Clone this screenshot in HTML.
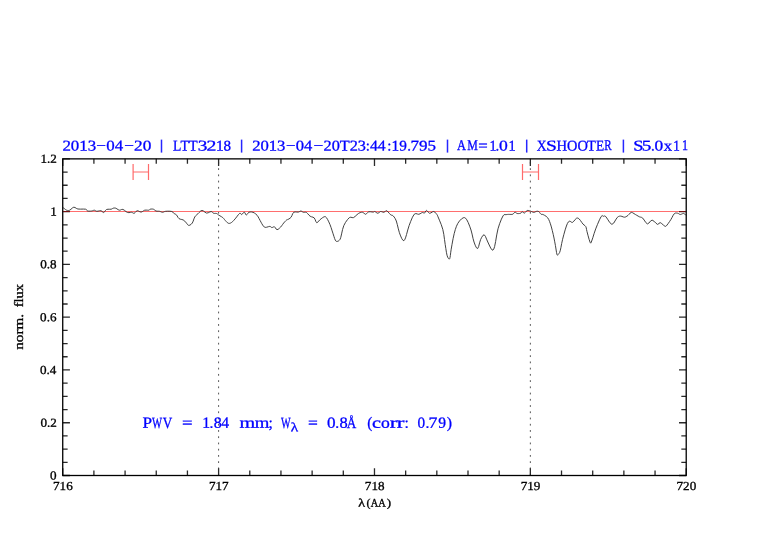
<!DOCTYPE html>
<html><head><meta charset="utf-8"><style>
html,body{margin:0;padding:0;background:#fff;width:782px;height:542px;overflow:hidden}
svg{display:block;will-change:transform}
</style></head><body>
<svg width="782" height="542" viewBox="0 0 782 542" style='font-family:"Liberation Serif", serif'>
<rect width="782" height="542" fill="#fff"/>
<path d="M133.10 164 V180 M148.50 164 V180 M133.10 172 H148.50" stroke="#ff6a6a" stroke-width="1.2" fill="none"/>
<path d="M522.50 164 V180 M538.50 164 V180 M522.50 172 H538.50" stroke="#ff6a6a" stroke-width="1.2" fill="none"/>
<path d="M218.60 475.4 V158.7" stroke="#555" stroke-width="1.0" stroke-dasharray="1.8 4.435" stroke-dashoffset="0.1" fill="none"/>
<path d="M530.35 475.4 V158.7" stroke="#555" stroke-width="1.0" stroke-dasharray="1.8 4.435" stroke-dashoffset="0.1" fill="none"/>
<path d="M62.73 211.5 H686.22" stroke="#ff6e6e" stroke-width="1.0" fill="none"/>
<path d="M63.00 208.00 L63.17 207.99 L63.43 207.99 L63.90 208.20 L64.65 208.81 L65.60 209.61 L66.60 210.20 L67.57 210.46 L68.58 210.50 L69.70 210.20 L70.99 209.24 L72.40 207.96 L73.80 207.20 L75.03 207.50 L76.27 208.34 L77.90 209.00 L80.41 209.13 L83.32 209.07 L85.60 209.20 L86.61 209.75 L86.99 210.47 L87.60 211.00 L88.87 211.16 L90.37 211.13 L91.70 211.00 L92.68 210.72 L93.50 210.36 L94.30 210.20 L95.08 210.49 L95.85 210.99 L96.80 211.30 L98.09 211.14 L99.56 210.79 L100.90 210.70 L101.96 211.30 L102.89 212.17 L103.80 212.50 L104.64 211.76 L105.46 210.48 L106.50 209.50 L108.02 209.23 L109.76 209.25 L111.20 209.20 L112.04 208.88 L112.59 208.49 L113.20 208.20 L113.99 208.05 L114.84 208.01 L115.80 208.20 L116.90 208.82 L118.09 209.67 L119.30 210.20 L120.46 210.00 L121.62 209.48 L122.90 209.40 L124.38 210.27 L125.97 211.57 L127.50 212.50 L128.96 212.63 L130.36 212.40 L131.60 212.30 L132.56 212.68 L133.36 213.19 L134.20 213.30 L135.14 212.55 L136.12 211.40 L137.20 210.70 L138.44 210.99 L139.79 211.73 L141.10 212.10 L142.30 211.64 L143.47 210.81 L144.70 210.20 L146.13 210.10 L147.61 210.20 L148.80 210.20 L149.43 209.90 L149.78 209.50 L150.30 209.20 L151.23 209.06 L152.34 209.03 L153.40 209.20 L154.27 209.72 L155.08 210.44 L156.00 211.00 L157.15 211.19 L158.41 211.20 L159.60 211.30 L160.64 211.66 L161.61 212.09 L162.60 212.30 L163.51 212.07 L164.44 211.62 L165.70 211.30 L167.64 211.20 L169.91 211.23 L171.80 211.50 L172.95 212.16 L173.71 213.05 L174.40 213.80 L175.09 214.13 L175.71 214.31 L176.40 214.80 L177.17 215.95 L178.00 217.41 L179.00 218.60 L180.31 219.19 L181.80 219.50 L183.10 219.90 L184.03 220.49 L184.78 221.17 L185.60 222.00 L186.57 223.25 L187.61 224.65 L188.70 225.40 L189.90 225.17 L191.16 224.29 L192.30 223.00 L193.19 221.13 L193.96 218.85 L194.80 216.90 L195.75 215.66 L196.77 214.74 L197.90 213.80 L199.17 212.46 L200.56 211.09 L202.00 210.40 L203.50 211.01 L205.05 212.29 L206.60 213.10 L208.21 212.76 L209.83 211.94 L211.20 211.50 L212.14 211.91 L212.84 212.69 L213.60 213.30 L214.59 213.43 L215.64 213.39 L216.60 213.50 L217.29 213.90 L217.89 214.45 L218.70 215.10 L219.98 215.85 L221.48 216.70 L222.80 217.60 L223.73 218.54 L224.48 219.53 L225.30 220.50 L226.29 221.57 L227.34 222.64 L228.40 223.30 L229.41 223.40 L230.43 223.11 L231.50 222.50 L232.63 221.58 L233.81 220.35 L235.10 218.90 L236.66 216.93 L238.32 214.73 L239.70 213.30 L240.54 213.36 L241.09 214.19 L241.70 214.60 L242.54 213.84 L243.46 212.67 L244.30 212.10 L244.99 212.91 L245.61 214.33 L246.30 215.10 L247.07 214.49 L247.90 213.24 L248.90 212.30 L250.16 211.98 L251.58 211.97 L253.00 212.30 L254.41 213.00 L255.81 214.03 L257.10 215.30 L258.20 216.89 L259.17 218.73 L260.10 220.50 L261.00 222.16 L261.86 223.76 L262.70 225.10 L263.46 226.16 L264.21 226.96 L265.20 227.40 L266.67 227.23 L268.37 226.69 L269.80 226.40 L270.67 226.71 L271.26 227.27 L271.90 227.60 L272.73 227.34 L273.62 226.87 L274.50 226.80 L275.30 227.70 L276.09 229.00 L277.00 229.70 L278.14 229.30 L279.40 228.28 L280.60 227.10 L281.67 225.81 L282.69 224.35 L283.70 223.00 L284.77 221.80 L285.82 220.70 L286.70 219.90 L287.23 219.60 L287.57 219.60 L288.10 219.40 L289.00 218.89 L290.07 218.20 L291.10 217.20 L291.92 215.59 L292.70 213.69 L293.70 212.30 L295.16 211.92 L296.84 212.06 L298.30 212.10 L299.32 211.71 L300.11 211.22 L300.90 211.00 L301.72 211.30 L302.53 211.86 L303.40 212.30 L304.37 212.32 L305.41 212.21 L306.50 212.50 L307.64 213.55 L308.84 214.99 L310.10 216.20 L311.49 216.80 L312.93 217.18 L314.20 217.90 L315.13 219.55 L315.88 221.55 L316.70 222.70 L317.65 222.34 L318.67 221.13 L319.80 219.90 L321.15 218.78 L322.61 217.63 L323.90 216.90 L324.81 216.63 L325.54 216.76 L326.40 217.60 L327.54 219.39 L328.80 221.87 L330.00 224.60 L331.10 227.61 L332.15 230.86 L333.10 233.80 L333.92 236.33 L334.64 238.56 L335.30 240.20 L335.89 241.07 L336.41 241.36 L337.00 241.40 L337.72 241.31 L338.49 240.97 L339.20 240.40 L339.73 239.84 L340.19 239.05 L340.80 237.30 L341.60 233.90 L342.56 229.54 L343.80 225.60 L345.53 222.36 L347.55 219.54 L349.40 217.60 L350.84 217.17 L352.11 217.62 L353.50 217.60 L355.20 216.36 L357.01 214.65 L358.70 213.30 L360.16 212.61 L361.49 212.29 L362.70 212.30 L363.74 212.91 L364.66 213.86 L365.60 214.30 L366.56 213.70 L367.55 212.59 L368.70 211.80 L370.24 211.73 L371.94 211.96 L373.30 212.10 L373.97 211.88 L374.30 211.56 L374.80 211.50 L375.73 212.06 L376.84 212.88 L377.90 213.30 L378.77 212.87 L379.59 212.04 L380.50 211.50 L381.63 211.66 L382.87 212.11 L384.00 212.30 L384.88 211.73 L385.66 210.90 L386.60 210.70 L387.91 211.76 L389.40 213.44 L390.70 214.80 L391.63 215.24 L392.38 215.35 L393.20 215.90 L394.19 217.06 L395.24 218.66 L396.30 221.00 L397.31 224.56 L398.33 228.85 L399.40 232.70 L400.60 235.94 L401.86 238.74 L403.00 240.40 L403.87 240.69 L404.63 239.84 L405.50 237.90 L406.56 234.49 L407.75 229.99 L409.10 225.60 L410.71 221.34 L412.48 217.19 L414.20 214.30 L415.81 213.53 L417.36 214.01 L418.80 214.30 L420.13 213.74 L421.35 212.99 L422.40 212.50 L423.21 212.64 L423.86 213.06 L424.50 213.10 L425.13 212.24 L425.76 211.01 L426.50 210.40 L427.41 211.13 L428.45 212.47 L429.60 213.30 L430.93 212.88 L432.38 211.93 L433.70 211.50 L434.84 212.10 L435.87 213.22 L436.70 214.30 L437.13 214.78 L437.37 215.23 L438.00 216.80 L439.43 220.16 L441.25 224.65 L442.80 229.40 L443.80 234.38 L444.53 239.62 L445.20 244.40 L445.84 248.57 L446.41 252.28 L447.00 255.20 L447.66 257.14 L448.32 258.30 L448.90 258.90 L449.32 259.10 L449.66 258.74 L450.00 257.60 L450.33 255.59 L450.66 252.80 L451.20 249.20 L452.04 244.33 L453.09 238.67 L454.20 233.60 L455.29 229.63 L456.44 226.26 L457.80 223.40 L459.53 220.91 L461.47 218.93 L463.20 217.80 L464.51 217.60 L465.62 218.24 L466.80 219.80 L468.20 222.53 L469.67 226.16 L471.00 230.00 L472.07 234.07 L473.00 238.33 L474.00 242.00 L475.18 245.18 L476.42 247.76 L477.60 248.60 L478.62 246.60 L479.58 242.87 L480.60 239.60 L481.76 237.24 L482.98 235.36 L484.20 234.80 L485.38 236.29 L486.56 239.10 L487.80 242.00 L489.21 245.00 L490.70 248.07 L492.00 249.90 L492.96 250.17 L493.73 249.19 L494.60 246.60 L495.61 241.56 L496.72 234.91 L498.00 228.80 L499.62 223.70 L501.42 219.15 L503.00 215.90 L504.18 214.60 L505.13 214.60 L506.00 214.70 L506.81 214.52 L507.53 214.44 L508.20 214.40 L508.79 214.39 L509.34 214.40 L510.00 214.40 L510.88 214.41 L511.87 214.41 L512.80 214.20 L513.58 213.54 L514.29 212.69 L515.00 212.20 L515.69 212.44 L516.39 213.06 L517.20 213.50 L518.28 213.60 L519.48 213.53 L520.50 213.30 L521.17 212.73 L521.66 211.99 L522.20 211.60 L522.87 212.01 L523.60 212.79 L524.40 213.10 L525.27 212.42 L526.21 211.28 L527.20 210.50 L528.26 210.44 L529.38 210.73 L530.50 211.10 L531.62 211.57 L532.74 212.12 L533.80 212.40 L534.79 212.16 L535.73 211.65 L536.60 211.30 L537.38 211.21 L538.09 211.28 L538.80 211.60 L539.53 212.38 L540.27 213.41 L541.00 214.20 L541.65 214.40 L542.30 214.35 L543.20 214.60 L544.56 215.32 L546.17 216.34 L547.60 217.70 L548.65 219.35 L549.53 221.33 L550.40 223.80 L551.36 226.95 L552.31 230.59 L553.20 234.30 L554.00 238.03 L554.73 241.82 L555.40 245.40 L555.98 248.97 L556.50 252.33 L557.00 254.60 L557.50 255.22 L557.99 254.76 L558.50 254.00 L559.03 253.43 L559.57 252.58 L560.20 250.80 L560.90 247.65 L561.67 243.57 L562.60 239.30 L563.80 234.69 L565.16 229.87 L566.40 226.00 L567.39 223.55 L568.27 222.04 L569.20 221.20 L570.24 221.35 L571.34 222.17 L572.50 222.40 L573.80 221.25 L575.16 219.51 L576.40 218.30 L577.38 218.01 L578.23 218.26 L579.20 219.00 L580.43 220.47 L581.77 222.43 L583.00 224.10 L584.07 225.03 L585.02 225.68 L585.80 226.60 L586.25 227.87 L586.52 229.42 L587.00 231.60 L587.95 235.19 L589.11 239.41 L590.10 242.30 L590.66 243.16 L591.04 242.68 L591.70 241.00 L592.80 237.77 L594.17 233.35 L595.70 228.90 L597.51 224.37 L599.47 219.82 L601.10 216.60 L602.13 215.59 L602.82 215.91 L603.50 216.30 L604.13 216.08 L604.76 215.92 L605.80 216.60 L607.58 219.19 L609.79 222.61 L611.90 224.40 L613.80 222.99 L615.60 219.94 L617.20 217.50 L618.45 216.53 L619.49 216.18 L620.60 216.10 L621.91 216.39 L623.29 216.96 L624.60 217.20 L625.78 216.86 L626.90 216.20 L628.00 215.40 L629.08 214.30 L630.14 213.07 L631.30 212.40 L632.61 212.71 L634.01 213.60 L635.40 214.50 L636.77 215.29 L638.12 216.10 L639.40 216.80 L640.50 217.14 L641.52 217.37 L642.70 218.10 L644.16 220.06 L645.78 222.51 L647.40 223.90 L648.94 223.04 L650.48 221.12 L652.10 220.10 L653.95 221.16 L655.87 223.12 L657.50 224.40 L658.53 224.05 L659.25 223.03 L660.20 222.60 L661.72 223.57 L663.46 225.14 L664.90 226.20 L665.69 226.38 L666.19 226.05 L666.90 225.20 L668.11 223.65 L669.54 221.58 L670.90 219.50 L672.08 217.38 L673.20 215.24 L674.30 213.70 L675.43 213.07 L676.55 213.04 L677.60 213.20 L678.52 213.59 L679.37 214.18 L680.30 214.50 L681.42 214.20 L682.62 213.63 L683.70 213.40 L684.63 213.91 L685.44 214.77 L686.00 215.40" stroke="#383838" stroke-width="0.95" fill="none" stroke-linejoin="round"/>
<path d="M62.73 475.50 V468.30 M62.73 158.87 V166.07 M93.90 475.50 V470.60 M93.90 158.87 V163.77 M125.08 475.50 V470.60 M125.08 158.87 V163.77 M156.25 475.50 V470.60 M156.25 158.87 V163.77 M187.43 475.50 V470.60 M187.43 158.87 V163.77 M218.60 475.50 V468.30 M218.60 158.87 V166.07 M249.78 475.50 V470.60 M249.78 158.87 V163.77 M280.95 475.50 V470.60 M280.95 158.87 V163.77 M312.13 475.50 V470.60 M312.13 158.87 V163.77 M343.30 475.50 V470.60 M343.30 158.87 V163.77 M374.48 475.50 V468.30 M374.48 158.87 V166.07 M405.65 475.50 V470.60 M405.65 158.87 V163.77 M436.82 475.50 V470.60 M436.82 158.87 V163.77 M468.00 475.50 V470.60 M468.00 158.87 V163.77 M499.17 475.50 V470.60 M499.17 158.87 V163.77 M530.35 475.50 V468.30 M530.35 158.87 V166.07 M561.52 475.50 V470.60 M561.52 158.87 V163.77 M592.70 475.50 V470.60 M592.70 158.87 V163.77 M623.87 475.50 V470.60 M623.87 158.87 V163.77 M655.05 475.50 V470.60 M655.05 158.87 V163.77 M686.22 475.50 V468.30 M686.22 158.87 V166.07 M62.73 475.50 H69.93 M686.22 475.50 H679.02 M62.73 462.31 H67.63 M686.22 462.31 H681.32 M62.73 449.11 H67.63 M686.22 449.11 H681.32 M62.73 435.92 H67.63 M686.22 435.92 H681.32 M62.73 422.73 H69.93 M686.22 422.73 H679.02 M62.73 409.54 H67.63 M686.22 409.54 H681.32 M62.73 396.34 H67.63 M686.22 396.34 H681.32 M62.73 383.15 H67.63 M686.22 383.15 H681.32 M62.73 369.96 H69.93 M686.22 369.96 H679.02 M62.73 356.76 H67.63 M686.22 356.76 H681.32 M62.73 343.57 H67.63 M686.22 343.57 H681.32 M62.73 330.38 H67.63 M686.22 330.38 H681.32 M62.73 317.18 H69.93 M686.22 317.18 H679.02 M62.73 303.99 H67.63 M686.22 303.99 H681.32 M62.73 290.80 H67.63 M686.22 290.80 H681.32 M62.73 277.61 H67.63 M686.22 277.61 H681.32 M62.73 264.41 H69.93 M686.22 264.41 H679.02 M62.73 251.22 H67.63 M686.22 251.22 H681.32 M62.73 238.03 H67.63 M686.22 238.03 H681.32 M62.73 224.83 H67.63 M686.22 224.83 H681.32 M62.73 211.64 H69.93 M686.22 211.64 H679.02 M62.73 198.45 H67.63 M686.22 198.45 H681.32 M62.73 185.26 H67.63 M686.22 185.26 H681.32 M62.73 172.06 H67.63 M686.22 172.06 H681.32 M62.73 158.87 H69.93 M686.22 158.87 H679.02" stroke="#2a2a2a" stroke-width="1.3" fill="none"/>
<rect x="62.73" y="158.87" width="623.49" height="316.63" stroke="#000" stroke-width="1.3" fill="none"/>
<path d="M63.38 211.5 H69.73 M679.22 211.5 H685.57" stroke="#7a1010" stroke-width="1.0" fill="none"/>
<text transform="translate(40.47 162.82) rotate(0.03) scale(1.0700 1)" font-size="12.27" fill="#000" stroke="#000" stroke-width="0.32">1.2</text>
<text transform="translate(50.32 215.59) rotate(0.03) scale(1.0700 1)" font-size="12.27" fill="#000" stroke="#000" stroke-width="0.32">1</text>
<text transform="translate(40.21 268.36) rotate(0.03) scale(1.0700 1)" font-size="12.27" fill="#000" stroke="#000" stroke-width="0.32">0.8</text>
<text transform="translate(40.08 321.13) rotate(0.03) scale(1.0700 1)" font-size="12.27" fill="#000" stroke="#000" stroke-width="0.32">0.6</text>
<text transform="translate(39.95 373.91) rotate(0.03) scale(1.0700 1)" font-size="12.27" fill="#000" stroke="#000" stroke-width="0.32">0.4</text>
<text transform="translate(40.47 426.68) rotate(0.03) scale(1.0700 1)" font-size="12.27" fill="#000" stroke="#000" stroke-width="0.32">0.2</text>
<text transform="translate(50.06 479.45) rotate(0.03) scale(1.0700 1)" font-size="12.27" fill="#000" stroke="#000" stroke-width="0.32">0</text>
<text transform="translate(53.02 490.10) rotate(0.03) scale(1.0700 1)" font-size="12.27" fill="#000" stroke="#000" stroke-width="0.32">716</text>
<text transform="translate(208.89 490.10) rotate(0.03) scale(1.0700 1)" font-size="12.27" fill="#000" stroke="#000" stroke-width="0.32">717</text>
<text transform="translate(364.83 490.10) rotate(0.03) scale(1.0700 1)" font-size="12.27" fill="#000" stroke="#000" stroke-width="0.32">718</text>
<text transform="translate(520.70 490.10) rotate(0.03) scale(1.0700 1)" font-size="12.27" fill="#000" stroke="#000" stroke-width="0.32">719</text>
<text transform="translate(676.57 490.10) rotate(0.03) scale(1.0700 1)" font-size="12.27" fill="#000" stroke="#000" stroke-width="0.32">720</text>
<text transform="translate(62.39 150.40) rotate(0.03) scale(1.1372 1)" font-size="14.85" fill="#0000ff" stroke="#0000ff" stroke-width="0.30">2013</text>
<text transform="translate(96.22 150.40) rotate(0.03) scale(1.1595 1)" font-size="14.85" fill="#0000ff" stroke="#0000ff" stroke-width="0.30">&#8722;</text>
<text transform="translate(106.32 150.40) rotate(0.03) scale(1.1392 1)" font-size="14.85" fill="#0000ff" stroke="#0000ff" stroke-width="0.30">04</text>
<text transform="translate(124.14 150.40) rotate(0.03) scale(1.1566 1)" font-size="14.85" fill="#0000ff" stroke="#0000ff" stroke-width="0.30">&#8722;</text>
<text transform="translate(134.01 150.40) rotate(0.03) scale(1.1639 1)" font-size="14.85" fill="#0000ff" stroke="#0000ff" stroke-width="0.30">20</text>
<path d="M161.50 139.6 V152.6" stroke="#0000ff" stroke-opacity="0.85" stroke-width="1.5" fill="none"/>
<text transform="translate(172.89 150.40) rotate(0.03) scale(0.9195 1)" font-size="14.85" fill="#0000ff" stroke="#0000ff" stroke-width="0.30">L</text>
<text transform="translate(180.52 150.40) rotate(0.03) scale(0.9334 1)" font-size="14.85" fill="#0000ff" stroke="#0000ff" stroke-width="0.30">T</text>
<text transform="translate(188.81 150.40) rotate(0.03) scale(0.9807 1)" font-size="14.85" fill="#0000ff" stroke="#0000ff" stroke-width="0.30">T</text>
<text transform="translate(197.74 150.40) rotate(0.03) scale(1.2977 1)" font-size="14.85" fill="#0000ff" stroke="#0000ff" stroke-width="0.30">3</text>
<text transform="translate(206.61 150.40) rotate(0.03) scale(1.3301 1)" font-size="14.85" fill="#0000ff" stroke="#0000ff" stroke-width="0.30">2</text>
<text transform="translate(216.01 150.40) rotate(0.03) scale(1.0391 1)" font-size="14.85" fill="#0000ff" stroke="#0000ff" stroke-width="0.30">1</text>
<text transform="translate(223.40 150.40) rotate(0.03) scale(1.0102 1)" font-size="14.85" fill="#0000ff" stroke="#0000ff" stroke-width="0.30">8</text>
<path d="M241.60 139.6 V152.6" stroke="#0000ff" stroke-opacity="0.85" stroke-width="1.5" fill="none"/>
<text transform="translate(252.13 150.40) rotate(0.03) scale(1.1224 1)" font-size="14.85" fill="#0000ff" stroke="#0000ff" stroke-width="0.30">2013</text>
<text transform="translate(286.05 150.40) rotate(0.03) scale(1.1420 1)" font-size="14.85" fill="#0000ff" stroke="#0000ff" stroke-width="0.30">&#8722;</text>
<text transform="translate(295.74 150.40) rotate(0.03) scale(1.1177 1)" font-size="14.85" fill="#0000ff" stroke="#0000ff" stroke-width="0.30">04</text>
<text transform="translate(313.53 150.40) rotate(0.03) scale(1.1713 1)" font-size="14.85" fill="#0000ff" stroke="#0000ff" stroke-width="0.30">&#8722;</text>
<text transform="translate(323.55 150.40) rotate(0.03) scale(1.0941 1)" font-size="14.85" fill="#0000ff" stroke="#0000ff" stroke-width="0.30">20T23</text>
<text transform="translate(365.67 150.40) rotate(0.03) scale(1.0000 1)" font-size="14.85" fill="#0000ff" stroke="#0000ff" stroke-width="0.30">:</text>
<text transform="translate(369.99 150.40) rotate(0.03) scale(1.0593 1)" font-size="14.85" fill="#0000ff" stroke="#0000ff" stroke-width="0.30">44</text>
<text transform="translate(387.27 150.40) rotate(0.03) scale(1.0000 1)" font-size="14.85" fill="#0000ff" stroke="#0000ff" stroke-width="0.30">:</text>
<text transform="translate(391.52 150.40) rotate(0.03) scale(1.0296 1)" font-size="14.85" fill="#0000ff" stroke="#0000ff" stroke-width="0.30">19</text>
<text transform="translate(407.24 150.40) rotate(0.03) scale(1.0000 1)" font-size="14.85" fill="#0000ff" stroke="#0000ff" stroke-width="0.30">.</text>
<text transform="translate(410.41 150.40) rotate(0.03) scale(1.1483 1)" font-size="14.85" fill="#0000ff" stroke="#0000ff" stroke-width="0.30">795</text>
<path d="M447.50 139.6 V152.6" stroke="#0000ff" stroke-opacity="0.85" stroke-width="1.5" fill="none"/>
<text transform="translate(456.98 150.40) rotate(0.03) scale(0.8370 1)" font-size="14.85" fill="#0000ff" stroke="#0000ff" stroke-width="0.30">A</text>
<text transform="translate(467.14 150.40) rotate(0.03) scale(0.8033 1)" font-size="14.85" fill="#0000ff" stroke="#0000ff" stroke-width="0.30">M</text>
<text transform="translate(478.26 150.40) rotate(0.03) scale(1.1320 1)" font-size="14.85" fill="#0000ff" stroke="#0000ff" stroke-width="0.30">=</text>
<text transform="translate(489.44 150.40) rotate(0.03) scale(0.9429 1)" font-size="14.85" fill="#0000ff" stroke="#0000ff" stroke-width="0.30">1</text>
<text transform="translate(495.44 150.40) rotate(0.03) scale(1.0000 1)" font-size="14.85" fill="#0000ff" stroke="#0000ff" stroke-width="0.30">.</text>
<text transform="translate(498.90 150.40) rotate(0.03) scale(1.1866 1)" font-size="14.85" fill="#0000ff" stroke="#0000ff" stroke-width="0.30">0</text>
<text transform="translate(508.61 150.40) rotate(0.03) scale(0.9621 1)" font-size="14.85" fill="#0000ff" stroke="#0000ff" stroke-width="0.30">1</text>
<path d="M526.70 139.6 V152.6" stroke="#0000ff" stroke-opacity="0.85" stroke-width="1.5" fill="none"/>
<text transform="translate(536.73 150.40) rotate(0.03) scale(0.9211 1)" font-size="14.85" fill="#0000ff" stroke="#0000ff" stroke-width="0.30">X</text>
<text transform="translate(545.93 150.40) rotate(0.03) scale(1.3149 1)" font-size="14.85" fill="#0000ff" stroke="#0000ff" stroke-width="0.30">S</text>
<text transform="translate(556.56 150.40) rotate(0.03) scale(0.9898 1)" font-size="14.85" fill="#0000ff" stroke="#0000ff" stroke-width="0.30">H</text>
<text transform="translate(567.12 150.40) rotate(0.03) scale(0.9681 1)" font-size="14.85" fill="#0000ff" stroke="#0000ff" stroke-width="0.30">O</text>
<text transform="translate(577.42 150.40) rotate(0.03) scale(0.9681 1)" font-size="14.85" fill="#0000ff" stroke="#0000ff" stroke-width="0.30">O</text>
<text transform="translate(586.91 150.40) rotate(0.03) scale(0.9689 1)" font-size="14.85" fill="#0000ff" stroke="#0000ff" stroke-width="0.30">T</text>
<text transform="translate(596.00 150.40) rotate(0.03) scale(0.9022 1)" font-size="14.85" fill="#0000ff" stroke="#0000ff" stroke-width="0.30">E</text>
<text transform="translate(604.27 150.40) rotate(0.03) scale(0.7471 1)" font-size="14.85" fill="#0000ff" stroke="#0000ff" stroke-width="0.30">R</text>
<path d="M623.40 139.6 V152.6" stroke="#0000ff" stroke-opacity="0.85" stroke-width="1.5" fill="none"/>
<text transform="translate(633.32 150.40) rotate(0.03) scale(1.2347 1)" font-size="14.85" fill="#0000ff" stroke="#0000ff" stroke-width="0.30">S</text>
<text transform="translate(641.85 150.40) rotate(0.03) scale(1.2964 1)" font-size="14.85" fill="#0000ff" stroke="#0000ff" stroke-width="0.30">5</text>
<text transform="translate(650.99 150.40) rotate(0.03) scale(1.0000 1)" font-size="14.85" fill="#0000ff" stroke="#0000ff" stroke-width="0.30">.</text>
<text transform="translate(654.60 150.40) rotate(0.03) scale(1.1706 1)" font-size="14.85" fill="#0000ff" stroke="#0000ff" stroke-width="0.30">0</text>
<text transform="translate(663.63 150.40) rotate(0.03) scale(1.1224 1)" font-size="14.85" fill="#0000ff" stroke="#0000ff" stroke-width="0.30">x</text>
<text transform="translate(673.32 150.40) rotate(0.03) scale(0.8851 1)" font-size="14.85" fill="#0000ff" stroke="#0000ff" stroke-width="0.30">1</text>
<text transform="translate(681.92 150.40) rotate(0.03) scale(0.8082 1)" font-size="14.85" fill="#0000ff" stroke="#0000ff" stroke-width="0.30">1</text>
<text transform="translate(142.59 427.70) rotate(0.03) scale(1.0985 1)" font-size="15.61" fill="#0000ff" stroke="#0000ff" stroke-width="0.30">P</text>
<text transform="translate(152.00 427.70) rotate(0.03) scale(0.6817 1)" font-size="15.61" fill="#0000ff" stroke="#0000ff" stroke-width="0.30">W</text>
<text transform="translate(162.87 427.70) rotate(0.03) scale(0.8422 1)" font-size="15.61" fill="#0000ff" stroke="#0000ff" stroke-width="0.30">V</text>
<text transform="translate(182.06 427.70) rotate(0.03) scale(1.1998 1)" font-size="15.61" fill="#0000ff" stroke="#0000ff" stroke-width="0.30">=</text>
<text transform="translate(202.19 427.70) rotate(0.03) scale(1.0069 1)" font-size="15.61" fill="#0000ff" stroke="#0000ff" stroke-width="0.30">1</text>
<text transform="translate(209.55 427.70) rotate(0.03) scale(1.0000 1)" font-size="15.61" fill="#0000ff" stroke="#0000ff" stroke-width="0.30">.</text>
<text transform="translate(213.76 427.70) rotate(0.03) scale(1.0222 1)" font-size="15.61" fill="#0000ff" stroke="#0000ff" stroke-width="0.30">8</text>
<text transform="translate(221.29 427.70) rotate(0.03) scale(1.0030 1)" font-size="15.61" fill="#0000ff" stroke="#0000ff" stroke-width="0.30">4</text>
<text transform="translate(239.40 427.70) rotate(0.03) scale(1.2902 1)" font-size="15.61" fill="#0000ff" stroke="#0000ff" stroke-width="0.30">m</text>
<text transform="translate(254.72 427.70) rotate(0.03) scale(1.2036 1)" font-size="15.61" fill="#0000ff" stroke="#0000ff" stroke-width="0.30">m</text>
<text transform="translate(268.45 427.70) rotate(0.03) scale(1.0000 1)" font-size="15.61" fill="#0000ff" stroke="#0000ff" stroke-width="0.30">;</text>
<text transform="translate(281.10 427.70) rotate(0.03) scale(0.6544 1)" font-size="15.61" fill="#0000ff" stroke="#0000ff" stroke-width="0.30">W</text>
<text transform="translate(307.93 427.70) rotate(0.03) scale(1.1180 1)" font-size="15.61" fill="#0000ff" stroke="#0000ff" stroke-width="0.30">=</text>
<text transform="translate(327.11 427.70) rotate(0.03) scale(1.0985 1)" font-size="15.61" fill="#0000ff" stroke="#0000ff" stroke-width="0.30">0</text>
<text transform="translate(335.25 427.70) rotate(0.03) scale(1.0000 1)" font-size="15.61" fill="#0000ff" stroke="#0000ff" stroke-width="0.30">.</text>
<text transform="translate(339.44 427.70) rotate(0.03) scale(1.0527 1)" font-size="15.61" fill="#0000ff" stroke="#0000ff" stroke-width="0.30">8</text>
<text transform="translate(346.87 427.70) rotate(0.03) scale(0.8422 1)" font-size="15.61" fill="#0000ff" stroke="#0000ff" stroke-width="0.30">&#197;</text>
<text transform="translate(367.18 427.70) rotate(0.03) scale(0.9858 1)" font-size="15.61" fill="#0000ff" stroke="#0000ff" stroke-width="0.30">(</text>
<text transform="translate(372.09 427.70) rotate(0.03) scale(1.2989 1)" font-size="15.61" fill="#0000ff" stroke="#0000ff" stroke-width="0.30">c</text>
<text transform="translate(380.90 427.70) rotate(0.03) scale(1.1290 1)" font-size="15.61" fill="#0000ff" stroke="#0000ff" stroke-width="0.30">o</text>
<text transform="translate(389.74 427.70) rotate(0.03) scale(1.4738 1)" font-size="15.61" fill="#0000ff" stroke="#0000ff" stroke-width="0.30">r</text>
<text transform="translate(396.64 427.70) rotate(0.03) scale(1.4738 1)" font-size="15.61" fill="#0000ff" stroke="#0000ff" stroke-width="0.30">r</text>
<text transform="translate(404.62 427.70) rotate(0.03) scale(1.0000 1)" font-size="15.61" fill="#0000ff" stroke="#0000ff" stroke-width="0.30">:</text>
<text transform="translate(417.39 427.70) rotate(0.03) scale(0.9764 1)" font-size="15.61" fill="#0000ff" stroke="#0000ff" stroke-width="0.30">0</text>
<text transform="translate(425.55 427.70) rotate(0.03) scale(1.0000 1)" font-size="15.61" fill="#0000ff" stroke="#0000ff" stroke-width="0.30">.</text>
<text transform="translate(428.56 427.70) rotate(0.03) scale(1.1374 1)" font-size="15.61" fill="#0000ff" stroke="#0000ff" stroke-width="0.30">7</text>
<text transform="translate(438.33 427.70) rotate(0.03) scale(0.9984 1)" font-size="15.61" fill="#0000ff" stroke="#0000ff" stroke-width="0.30">9</text>
<text transform="translate(446.63 427.70) rotate(0.03) scale(1.0105 1)" font-size="15.61" fill="#0000ff" stroke="#0000ff" stroke-width="0.30">)</text>
<text transform="translate(290.75 431.30) rotate(0.03) scale(1.2016 1)" font-size="12.58" fill="#0000ff" stroke="#0000ff" stroke-width="0.30">&#955;</text>
<text transform="translate(358.28 506.60) rotate(0.03) scale(1.2320 1)" font-size="11.36" fill="#000" stroke="#000" stroke-width="0.32">&#955;</text>
<text transform="translate(366.52 506.60) rotate(0.03) scale(1.0492 1)" font-size="11.36" fill="#000" stroke="#000" stroke-width="0.32">(</text>
<text transform="translate(370.80 506.60) rotate(0.03) scale(0.9108 1)" font-size="11.36" fill="#000" stroke="#000" stroke-width="0.32">AA</text>
<text transform="translate(386.81 506.60) rotate(0.03) scale(1.1508 1)" font-size="11.36" fill="#000" stroke="#000" stroke-width="0.32">)</text>
<g transform="translate(22.9 349.4) rotate(-90)"><text transform="translate(-0.30 0.00) rotate(0.03) scale(1.1781 1)" font-size="12.83" fill="#000" stroke="#000" stroke-width="0.32">norm.</text><text transform="translate(42.06 0.00) rotate(0.03) scale(1.1322 1)" font-size="12.83" fill="#000" stroke="#000" stroke-width="0.32">flux</text></g>
</svg>
</body></html>
